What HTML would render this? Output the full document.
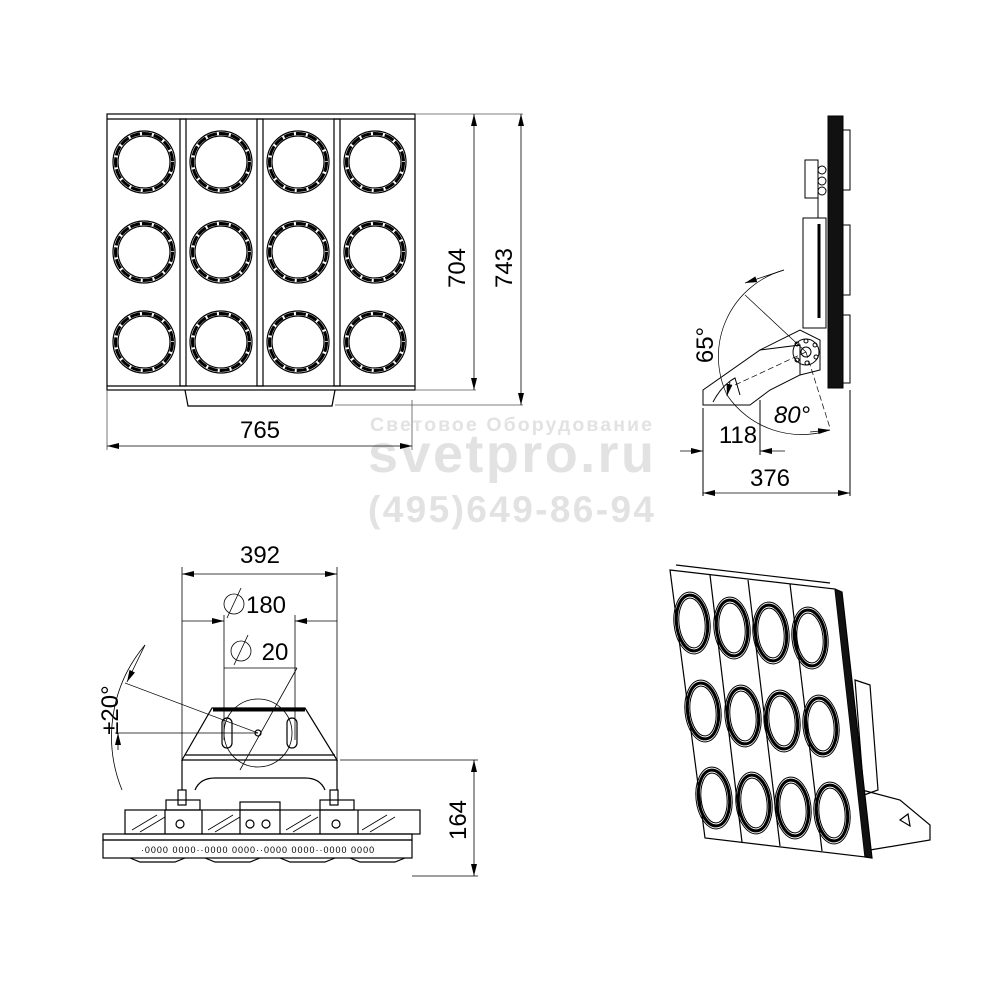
<!DOCTYPE html>
<html><head><meta charset="utf-8"><style>
html,body{margin:0;padding:0;background:#fff}
svg{display:block}
text{font-family:"Liberation Sans",sans-serif}
</style></head><body>
<svg width="1000" height="1000" viewBox="0 0 1000 1000" xmlns="http://www.w3.org/2000/svg">
<defs>
<marker id="a" viewBox="0 0 12 6" refX="12" refY="3" markerWidth="12" markerHeight="6" orient="auto-start-reverse" markerUnits="userSpaceOnUse"><path d="M0,0L12,3L0,6z" fill="#000"/></marker>
<g id="lens"><circle r="31" fill="none" stroke="#000" stroke-width="1.2"/><circle r="28.5" fill="none" stroke="#000" stroke-width="3" stroke-dasharray="10 2"/><circle r="26" fill="none" stroke="#000" stroke-width="1.2"/></g>
<g id="il"><ellipse rx="18" ry="31" fill="none" stroke="#000" stroke-width="1"/><ellipse rx="15.5" ry="28" fill="none" stroke="#000" stroke-width="3"/><ellipse rx="13" ry="25" fill="none" stroke="#000" stroke-width="1"/></g>
</defs>

<!-- watermark -->
<g fill="#e2e2e2" font-weight="bold" font-family="Liberation Sans,sans-serif">
<text x="370" y="431" font-size="19.5" textLength="282">Световое Оборудование</text>
<text x="368" y="472" font-size="54" textLength="286">svetpro.ru</text>
<text x="368" y="522" font-size="37" textLength="286">(495)649-86-94</text>
</g>

<!-- FRONT VIEW -->
<g stroke="#000" fill="none" stroke-width="1.2">
<rect x="107" y="114" width="308" height="276"/>
<line x1="107" y1="119" x2="415" y2="119"/>
<line x1="107" y1="386" x2="415" y2="386"/>
<rect x="180" y="119" width="6" height="267"/>
<rect x="257" y="119" width="6" height="267"/>
<rect x="334" y="119" width="6" height="267"/>
<path d="M185,390 L188,406 L332,406 L335,390"/>
</g>
<g>
<use href="#lens" x="144" y="162"/><use href="#lens" x="221" y="162"/><use href="#lens" x="298" y="162"/><use href="#lens" x="375" y="162"/>
<use href="#lens" x="144" y="252"/><use href="#lens" x="221" y="252"/><use href="#lens" x="298" y="252"/><use href="#lens" x="375" y="252"/>
<use href="#lens" x="144" y="342"/><use href="#lens" x="221" y="342"/><use href="#lens" x="298" y="342"/><use href="#lens" x="375" y="342"/>
</g>
<!-- front dims -->
<g stroke="#555" stroke-width="0.8" fill="none">
<line x1="415" y1="114" x2="523" y2="114"/>
<line x1="415" y1="390" x2="476" y2="390"/>
<line x1="335" y1="405" x2="523" y2="405"/>
<line x1="107" y1="390" x2="107" y2="450"/>
<line x1="412" y1="400" x2="412" y2="450"/>
</g>
<g stroke="#000" stroke-width="0.8">
<line x1="474" y1="114" x2="474" y2="390" marker-start="url(#a)" marker-end="url(#a)"/>
<line x1="521" y1="114" x2="521" y2="405" marker-start="url(#a)" marker-end="url(#a)"/>
<line x1="107" y1="446" x2="412" y2="446" marker-start="url(#a)" marker-end="url(#a)"/>
</g>
<text x="260" y="438" font-size="24" text-anchor="middle">765</text>
<text transform="translate(465,268) rotate(-90)" font-size="24" text-anchor="middle">704</text>
<text transform="translate(512,268) rotate(-90)" font-size="24" text-anchor="middle">743</text>

<!-- SIDE VIEW -->
<g stroke="#000" fill="none" stroke-width="1">
<rect x="828" y="116" width="15" height="272" fill="#111"/>
<rect x="843" y="130" width="7" height="60"/><rect x="843" y="225" width="7" height="70"/><rect x="843" y="315" width="7" height="68"/>
<rect x="805" y="160" width="13" height="38"/>
<circle cx="822" cy="170" r="4"/><circle cx="822" cy="181" r="4"/><circle cx="822" cy="191" r="4"/>
<line x1="818" y1="198" x2="818" y2="218"/>
<rect x="803" y="218" width="23" height="110"/>
<line x1="819" y1="224" x2="819" y2="318" stroke-width="3"/>
<path d="M703,390 L703,405 L750,405 L770,390 L800,375 L800,345 L760,350 Z"/>
<path d="M760,350 L800,330 L820,340 L820,370 L800,375"/>
<circle cx="806" cy="352" r="13"/><circle cx="806" cy="352" r="5"/>
<circle cx="797" cy="344" r="2"/><circle cx="806" cy="341" r="2"/><circle cx="815" cy="345" r="2"/><circle cx="816" cy="357" r="2"/><circle cx="807" cy="363" r="2"/><circle cx="797" cy="360" r="2"/>
<path d="M713,402 Q722,385 735,378 L740,395" />
<line x1="703" y1="408" x2="703" y2="496"/>
<line x1="850" y1="390" x2="850" y2="496"/>
<line x1="760" y1="400" x2="760" y2="455"/>
<path d="M784,270 A90,90 0 0,0 727,395" stroke-width="0.7"/>
<path d="M727,395 A90,90 0 0,0 830,430" stroke-width="0.7"/>
<line x1="806" y1="352" x2="745" y2="295" stroke-width="0.7"/>
<line x1="806" y1="352" x2="830" y2="428" stroke-width="0.7" stroke-dasharray="6 3"/>
<line x1="806" y1="352" x2="735" y2="385" stroke-width="0.7" stroke-dasharray="6 3"/>
</g>
<g stroke="#000" stroke-width="0.8">
<line x1="745" y1="283" x2="784" y2="270" marker-start="url(#a)"/>
<line x1="730" y1="382" x2="727" y2="396" marker-end="url(#a)"/>
<line x1="810" y1="432" x2="830" y2="430" marker-end="url(#a)"/>
<line x1="680" y1="451" x2="703" y2="451" marker-end="url(#a)"/>
<line x1="785" y1="451" x2="760" y2="451" marker-end="url(#a)"/>
<line x1="703" y1="493" x2="850" y2="493" marker-start="url(#a)" marker-end="url(#a)"/>
</g>
<text transform="translate(713,345) rotate(-90)" font-size="24" text-anchor="middle">65°</text>
<text x="792" y="423" font-size="24" font-style="italic" text-anchor="middle">80°</text>
<text x="738" y="443" font-size="24" text-anchor="middle">118</text>
<text x="770" y="486" font-size="24" text-anchor="middle">376</text>

<!-- BOTTOM VIEW -->
<g stroke="#000" stroke-width="0.8" fill="none">
<line x1="182" y1="567" x2="182" y2="760"/>
<line x1="337" y1="567" x2="337" y2="790"/>
<line x1="224" y1="615" x2="224" y2="740"/>
<line x1="295" y1="615" x2="295" y2="740"/>
<line x1="224" y1="668" x2="297" y2="668"/>
<line x1="297" y1="668" x2="240" y2="770"/>
<line x1="258" y1="733" x2="125" y2="683"/>
<line x1="258" y1="733" x2="115" y2="733"/>
<path d="M145,645 A142,142 0 0,0 122,790"/>
<line x1="340" y1="760" x2="478" y2="760"/>
<line x1="412" y1="876" x2="478" y2="876"/>
</g>
<g stroke="#000" stroke-width="0.8">
<line x1="182" y1="574" x2="337" y2="574" marker-start="url(#a)" marker-end="url(#a)"/>
<line x1="182" y1="621" x2="224" y2="621" marker-end="url(#a)"/>
<line x1="337" y1="621" x2="295" y2="621" marker-end="url(#a)"/>
<line x1="145" y1="645" x2="127" y2="682" marker-end="url(#a)"/>
<line x1="118" y1="750" x2="118" y2="733" marker-end="url(#a)"/>
<line x1="474" y1="760" x2="474" y2="876" marker-start="url(#a)" marker-end="url(#a)"/>
</g>
<text x="260" y="563" font-size="24" text-anchor="middle">392</text>
<text x="266" y="613" font-size="24" text-anchor="middle">180</text>
<text x="275" y="660" font-size="24" text-anchor="middle">20</text>
<g stroke="#000" fill="none" stroke-width="0.8"><circle cx="234" cy="604" r="10"/><line x1="227" y1="618" x2="241" y2="588"/><circle cx="241" cy="651" r="10"/><line x1="234" y1="665" x2="248" y2="635"/></g>
<text transform="translate(118,710) rotate(-90)" font-size="24" text-anchor="middle">±20°</text>
<text transform="translate(466,820) rotate(-90)" font-size="24" text-anchor="middle">164</text>
<g stroke="#000" fill="none" stroke-width="1.2">
<path d="M182,760 L212,708 L305,708 L337,760 Z"/>
<line x1="213" y1="710" x2="305" y2="710" stroke-width="3"/>
<line x1="185" y1="755" x2="335" y2="755"/>
<rect x="222" y="718" width="10" height="30" rx="5"/><rect x="287" y="718" width="10" height="30" rx="5"/>
<circle cx="258" cy="733" r="34" stroke-width="0.8"/>
<circle cx="258" cy="733" r="3"/>
<path d="M182,760 L182,790 M337,760 L337,790 M195,790 Q200,778 215,778 L305,778 Q320,778 325,790"/>
<rect x="178" y="790" width="8" height="15"/><rect x="330" y="790" width="8" height="15"/>
<rect x="125" y="810" width="295" height="24"/>
<line x1="165" y1="810" x2="165" y2="834"/><line x1="202" y1="810" x2="202" y2="834"/><line x1="240" y1="810" x2="240" y2="834"/><line x1="280" y1="810" x2="280" y2="834"/><line x1="320" y1="810" x2="320" y2="834"/><line x1="358" y1="810" x2="358" y2="834"/>
<circle cx="180" cy="824" r="4"/><circle cx="250" cy="824" r="4"/><circle cx="266" cy="824" r="4"/><circle cx="336" cy="824" r="4"/>
<rect x="103" y="834" width="309" height="6"/>
<rect x="103" y="840" width="309" height="18"/>
<path d="M130,858 L140,862 L175,862 L185,858 M205,858 L215,862 L250,862 L260,858 M280,858 L290,862 L325,862 L335,858 M350,858 L360,862 L395,862 L405,858"/>
<rect x="166" y="800" width="34" height="10"/><rect x="240" y="802" width="40" height="8"/><rect x="320" y="800" width="34" height="10"/>
</g>
<g stroke="#000" stroke-width="0.8" fill="none">
<path d="M132,830 l25,-15 M140,832 l25,-15 M208,830 l25,-15 M215,832 l25,-15 M286,830 l25,-15 M293,832 l25,-15 M362,830 l25,-15 M370,832 l25,-15"/>
</g>
<text x="258" y="853" font-size="9" text-anchor="middle" letter-spacing="1" font-family="Liberation Mono,monospace">·0000 0000··0000 0000··0000 0000··0000 0000</text>

<!-- ISO VIEW -->
<g stroke="#000" fill="none" stroke-width="1.2">
<path d="M855,680 L870,685 L878,790 L864,795 Z"/>
<path d="M862,790 L900,800 L930,825 L930,840 L870,850 Z"/>
<path d="M900,820 l8,-6 l2,12 z"/>
<path d="M670,570 L835,589 L865,857 L705,838 Z"/>
<path d="M835,589 L842,592 L872,858 L865,857" fill="#111"/>
<line x1="710" y1="575" x2="742" y2="842"/>
<line x1="748" y1="580" x2="780" y2="846"/>
<line x1="790" y1="584" x2="822" y2="851"/>
<path d="M676,565 L830,583"/>
</g>
<g>
<use href="#il" transform="translate(692,623) rotate(-6)"/>
<use href="#il" transform="translate(732,628) rotate(-6)"/>
<use href="#il" transform="translate(771,633) rotate(-6)"/>
<use href="#il" transform="translate(810,638) rotate(-6)"/>
<use href="#il" transform="translate(703,711) rotate(-6)"/>
<use href="#il" transform="translate(743,716) rotate(-6)"/>
<use href="#il" transform="translate(782,721) rotate(-6)"/>
<use href="#il" transform="translate(821,726) rotate(-6)"/>
<use href="#il" transform="translate(714,798) rotate(-6)"/>
<use href="#il" transform="translate(754,803) rotate(-6)"/>
<use href="#il" transform="translate(793,808) rotate(-6)"/>
<use href="#il" transform="translate(832,813) rotate(-6)"/>
</g>
</svg>
</body></html>
